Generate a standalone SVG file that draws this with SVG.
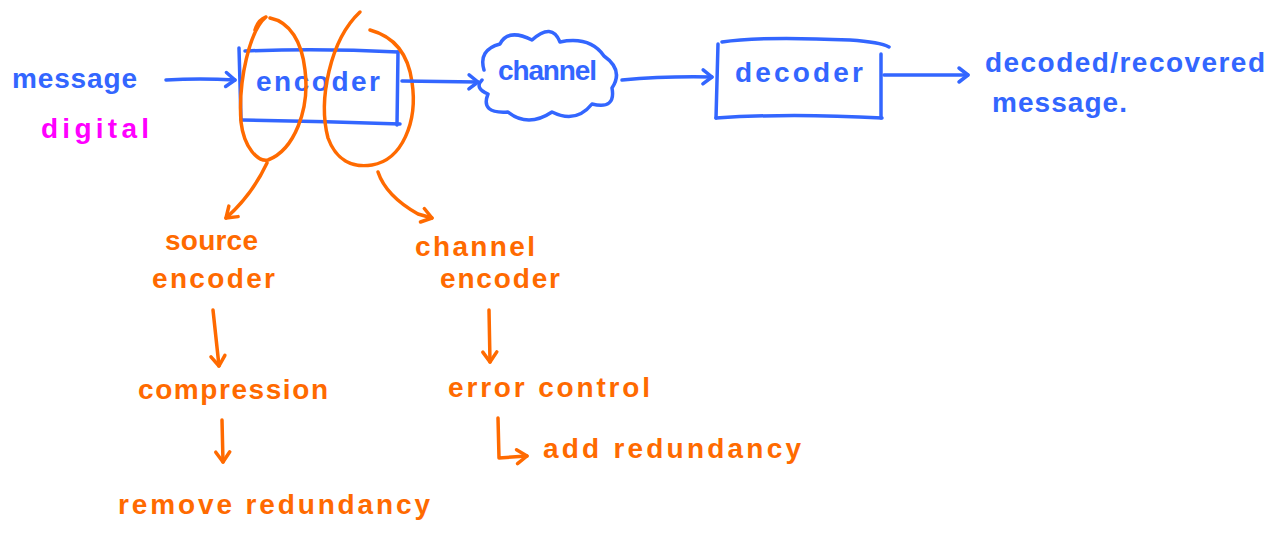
<svg xmlns="http://www.w3.org/2000/svg" width="1268" height="538" viewBox="0 0 1268 538">
  <style>
    .ink { fill: none; stroke-width: 3.5; stroke-linecap: round; stroke-linejoin: round; }
    .blue { stroke: #3366ff; }
    .orange { stroke: #ff6a00; }
    .t { font-family: "Liberation Sans", Arial, sans-serif; font-size: 28px; font-weight: bold; }
    .tb { fill: #3366ff; }
    .to { fill: #ff6a00; }
    .tm { fill: #ff00ff; }
  </style>
  <defs>
    <marker id="headBlue" viewBox="-12 -9 14 18" refX="0" refY="0" markerWidth="14" markerHeight="18" markerUnits="userSpaceOnUse" orient="auto" overflow="visible">
      <path d="M -9 -7 L 0 0 L -9 7" fill="none" stroke="#3366ff" stroke-width="3.5" stroke-linecap="round" stroke-linejoin="round"/>
    </marker>
    <marker id="headOrange" viewBox="-12 -9 14 18" refX="0" refY="0" markerWidth="14" markerHeight="18" markerUnits="userSpaceOnUse" orient="auto" overflow="visible">
      <path d="M -10 -7 L 0 0 L -10 7" fill="none" stroke="#ff6a00" stroke-width="3.5" stroke-linecap="round" stroke-linejoin="round"/>
    </marker>
  </defs>

  <rect width="1268" height="538" fill="#ffffff"/>

  <!-- input message -->
  <g id="input">
    <text class="t tb" x="12" y="88" textLength="125" lengthAdjust="spacing" font-size="26">message</text>
    <text class="t tm" x="41" y="138" textLength="108" lengthAdjust="spacing" font-size="32">digital</text>
  </g>

  <!-- encoder block -->
  <g id="encoder">
    <path class="ink blue" d="M 239 48 L 241 120"/>
    <path class="ink blue" d="M 245 51 Q 320 48 398 52"/>
    <path class="ink blue" d="M 242 120 Q 320 121 400 124"/>
    <path class="ink blue" d="M 398 52 L 397 125"/>
    <text class="t tb" x="256" y="91" textLength="124" lengthAdjust="spacing">encoder</text>
  </g>

  <!-- source / channel encoder halves circled -->
  <g id="source-part">
    <path class="ink orange" d="M 255 30 Q 258 20 266 17 C 250 30 238 80 241 122 C 244 148 258 162 268 160 C 294 150 310 110 305 70 C 302 42 290 22 270 18"/>
  </g>
  <g id="channel-part">
    <path class="ink orange" d="M 360 12 C 330 40 318 100 328 138 C 336 160 352 168 372 165 C 402 160 418 122 412 82 C 408 52 392 36 370 30"/>
  </g>

  <!-- channel cloud -->
  <g id="channel">
    <path class="ink blue" d="M 484 70 Q 478 50 500 44 Q 508 28 532 40 Q 552 22 560 42 Q 590 36 604 56 Q 624 70 612 88 Q 616 110 592 104 Q 576 124 552 112 Q 528 128 508 112 Q 480 114 488 94 Q 474 88 482 80"/>
    <text class="t tb" x="498" y="80" textLength="99" lengthAdjust="spacing" font-size="22">channel</text>
  </g>

  <!-- decoder block -->
  <g id="decoder">
    <path class="ink blue" d="M 718 44 L 716 118"/>
    <path class="ink blue" d="M 722 42 Q 760 36 850 40 Q 880 42 889 47"/>
    <path class="ink blue" d="M 881 54 L 881 118"/>
    <path class="ink blue" d="M 716 118 Q 790 113 882 118"/>
    <text class="t tb" x="735" y="82" textLength="128" lengthAdjust="spacing" font-size="30">decoder</text>
  </g>

  <!-- output -->
  <g id="output">
    <text class="t tb" x="985" y="72" textLength="280" lengthAdjust="spacing">decoded/recovered</text>
    <text class="t tb" x="992" y="112" textLength="135" lengthAdjust="spacing">message.</text>
  </g>

  <!-- breakdown labels -->
  <g id="source-encoder">
    <text class="t to" x="165" y="250" textLength="93" lengthAdjust="spacing">source</text>
    <text class="t to" x="152" y="288" textLength="123" lengthAdjust="spacing">encoder</text>
  </g>
  <g id="compression">
    <text class="t to" x="138" y="399" textLength="190" lengthAdjust="spacing">compression</text>
  </g>
  <g id="remove-redundancy">
    <text class="t to" x="118" y="514" textLength="312" lengthAdjust="spacing" font-size="30">remove redundancy</text>
  </g>
  <g id="channel-encoder">
    <text class="t to" x="415" y="256" textLength="120" lengthAdjust="spacing">channel</text>
    <text class="t to" x="440" y="288" textLength="120" lengthAdjust="spacing">encoder</text>
  </g>
  <g id="error-control">
    <text class="t to" x="448" y="397" textLength="202" lengthAdjust="spacing" font-size="30">error control</text>
  </g>
  <g id="add-redundancy">
    <text class="t to" x="543" y="458" textLength="258" lengthAdjust="spacing" font-size="30">add redundancy</text>
  </g>

  <!-- connectors -->
  <g id="connectors">
    <path class="ink blue" d="M 166 80 Q 200 78 235 80" marker-end="url(#headBlue)"/>
    <path class="ink blue" d="M 402 81 L 478 82" marker-end="url(#headBlue)"/>
    <path class="ink blue" d="M 622 80 Q 665 76 712 77" marker-end="url(#headBlue)"/>
    <path class="ink blue" d="M 884 75 L 968 75" marker-end="url(#headBlue)"/>
    <path class="ink orange" d="M 267 163 Q 252 195 226 218" marker-end="url(#headOrange)"/>
    <path class="ink orange" d="M 378 172 Q 386 196 418 214 L 432 218" marker-end="url(#headOrange)"/>
    <path class="ink orange" d="M 213 310 L 219 366" marker-end="url(#headOrange)"/>
    <path class="ink orange" d="M 222 420 L 223 462" marker-end="url(#headOrange)"/>
    <path class="ink orange" d="M 489 310 L 490 362" marker-end="url(#headOrange)"/>
    <path class="ink orange" d="M 498 418 L 499 458 L 527 456" marker-end="url(#headOrange)"/>
  </g>
</svg>
